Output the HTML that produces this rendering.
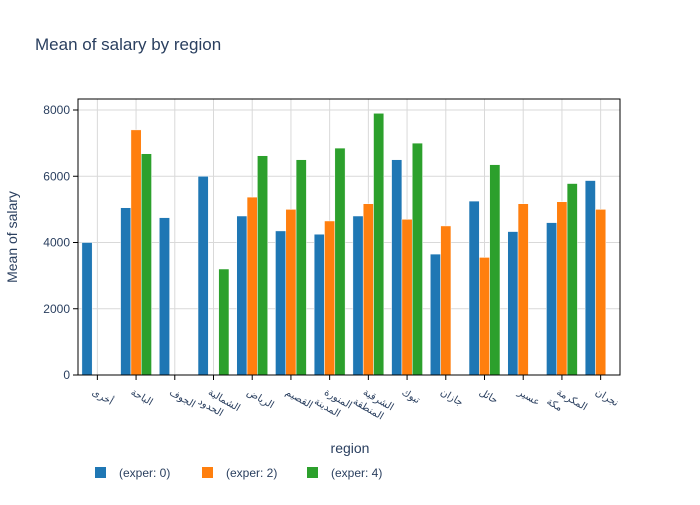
<!DOCTYPE html>
<html><head><meta charset="utf-8"><style>
body{margin:0;background:#fff}
svg text{font-family:"Liberation Sans","Noto Sans CJK SC",sans-serif;fill:#2a3f5f}
</style></head><body>
<svg id="chart" width="700" height="500" xmlns="http://www.w3.org/2000/svg">
<text x="35" y="50" font-size="17">Mean of salary by region</text>
<g id="grid"></g><g id="bars"></g><g id="axes"></g>
<rect x="78" y="99" width="542" height="276" fill="none" stroke="#000" stroke-width="1"/>
<text x="350" y="453" font-size="14" text-anchor="middle">region</text>
<text transform="translate(17,237) rotate(-90)" font-size="14" text-anchor="middle">Mean of salary</text>
<g id="legend"></g>
</svg>
<script>
const categories=["أخرى","الباحة","الجوف","الحدود الشمالية","الرياض","القصيم","المدينة المنورة","المنطقة الشرقية","تبوك","جازان","حائل","عسير","مكة المكرمة","نجران"];
const exper0=[4000,5050,4750,6000,4800,4350,4250,4800,6500,3650,5250,4330,4600,5870];
const exper2=[null,7400,null,null,5370,5000,4650,5170,4700,4500,3550,5170,5230,5000];
const exper4=[null,6680,null,3200,6620,6500,6850,7900,7000,null,6350,null,5780,null];
const yTicks=[0,2000,4000,6000,8000];
const seriesNames=["(exper: 0)","(exper: 2)","(exper: 4)"];
const colors=["#1f77b4","#ff7f0e","#2ca02c"];
const NS="http://www.w3.org/2000/svg";
const L=78,R=620,T=99,B=375;
const slot=(R-L)/categories.length;
const xC=i=>L+slot*(i+0.5);
const y=v=>B-v*(265/8000);
function mk(t,a,p){const e=document.createElementNS(NS,t);for(const k in a)e.setAttribute(k,a[k]);p.appendChild(e);return e;}
const grid=document.getElementById('grid'),bars=document.getElementById('bars'),axes=document.getElementById('axes'),leg=document.getElementById('legend');
yTicks.forEach(t=>{
 const l=mk('line',{x1:L,x2:R,y1:y(t),y2:y(t),stroke:'#d9d9d9'},grid);
 
 mk('line',{x1:L-5,x2:L,y1:y(t),y2:y(t),stroke:'#000'},axes);
 const tx=mk('text',{x:L-8,y:y(t)+4,'font-size':12,'text-anchor':'end'},axes);tx.textContent=t;
 
});
categories.forEach((c,i)=>{
 const l=mk('line',{x1:xC(i),x2:xC(i),y1:T,y2:B,stroke:'#d9d9d9'},grid);
 
 mk('line',{x1:xC(i),x2:xC(i),y1:B,y2:B+5,stroke:'#000'},axes);
 const words=c.split(' ');
 const tx=mk('text',{transform:`translate(${xC(i)-6},${B+19}) rotate(30)`,'font-size':10,'text-anchor':'start'},axes);
 words.slice().reverse().forEach((w,j)=>{const ts=mk('tspan',{x:(j? -4:0),dy:(j?13:0)},tx);ts.textContent=w;});
 
});
const series=[exper0,exper2,exper4];
const gw=slot*0.8,bw=gw/3;
series.forEach((s,k)=>s.forEach((v,i)=>{
 if(v==null)return;
 const x=xC(i)-gw/2+k*bw;
 const r=mk('rect',{x:x,y:y(v),width:bw,height:B-y(v),fill:colors[k],stroke:'#fff','stroke-width':0.5},bars);
 
 
}));
const lx=[95,202,307];
seriesNames.forEach((n,k)=>{
 const g=mk('g',{},leg);
 
 mk('rect',{x:lx[k],y:467,width:11,height:11,fill:colors[k]},g);
 const t=mk('text',{x:lx[k]+24,y:477,'font-size':12},g);t.textContent=n;
});
</script>
</body></html>
